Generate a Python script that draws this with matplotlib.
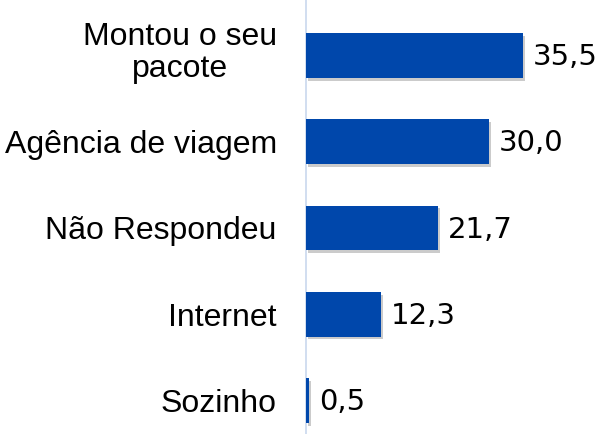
import matplotlib
matplotlib.use('Agg')
import matplotlib.pyplot as plt
import matplotlib.patheffects as pe
from matplotlib.transforms import ScaledTranslation

categorias = ['Montou o seu\npacote', 'Agência de viagem', 'Não Respondeu', 'Internet', 'Sozinho']
valores = [35.5, 30.0, 21.7, 12.3, 0.5]
rotulos = ['35,5', '30,0', '21,7', '12,3', '0,5']

plt.rcParams['font.family'] = ['Liberation Sans', 'DejaVu Sans']

fig = plt.figure(figsize=(6, 4.34), dpi=100)
ax = fig.add_axes([0.51, 0.0, 0.49, 1.0])

pos = list(range(len(categorias)))
barras = ax.barh(pos, valores, height=0.52, color='#0047ab', zorder=3)
for b in barras:
    b.set_path_effects([pe.SimplePatchShadow(offset=(1.5, -2), shadow_rgbFace='#999999', alpha=0.5), pe.Normal()])

# rótulos de valor
for p, v, r in zip(pos, valores, rotulos):
    ax.text(v + 1.6, p + 0.02, r, va='center', ha='left', fontsize=21,
            family=['DejaVu Sans'], color='black')

ax.set_xlim(0, 48.2)
ax.set_ylim(4.39, -0.644)
ax.set_yticks(pos)
ax.set_yticklabels(categorias, fontsize=23, ha='right', multialignment='center', linespacing=1.1)
ax.tick_params(axis='y', length=0, pad=21)
# primeiro rótulo (duas linhas) um pouco acima do centro da barra
lbl0 = ax.get_yticklabels()[0]
lbl0.set_transform(lbl0.get_transform() + ScaledTranslation(0, 5 / 72, fig.dpi_scale_trans))
ax.set_xticks([])
for s in ['top', 'right', 'bottom']:
    ax.spines[s].set_visible(False)
ax.spines['left'].set_color('#c9d8ee')
ax.spines['left'].set_linewidth(1.2)

fig.savefig('out.png', dpi=100)
